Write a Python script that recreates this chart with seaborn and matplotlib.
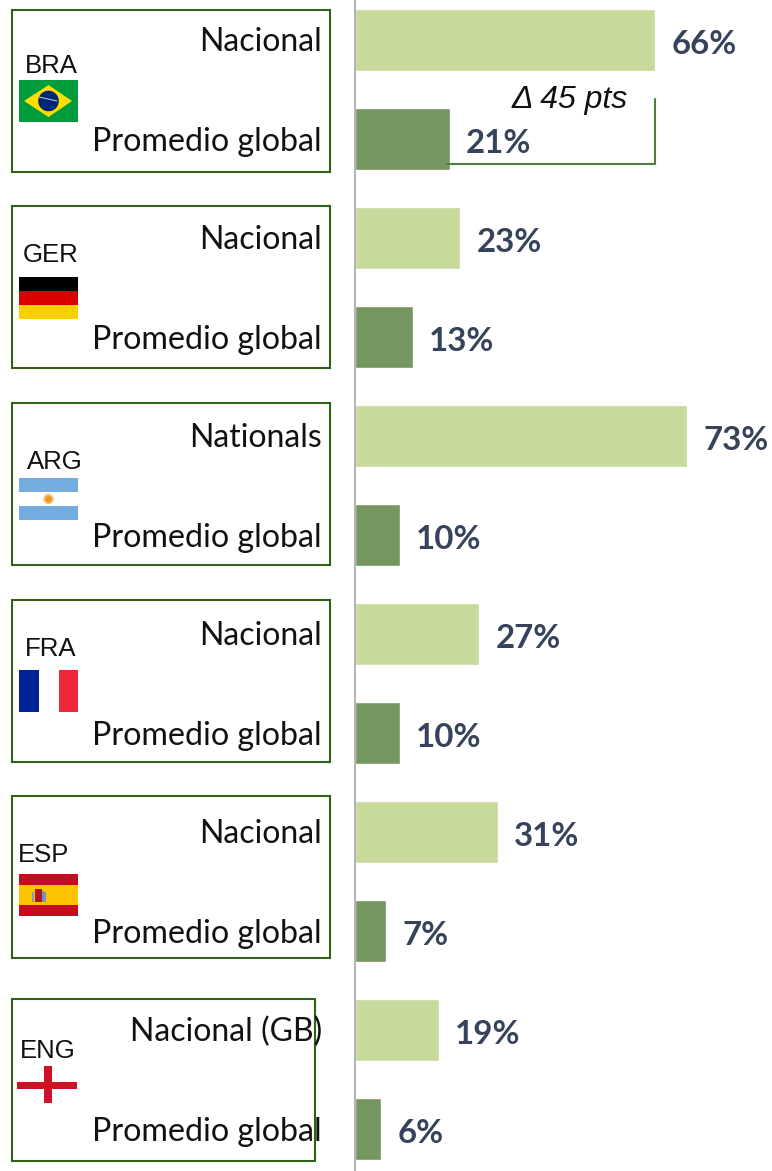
import matplotlib
matplotlib.use("Agg")
import matplotlib.pyplot as plt
from matplotlib.patches import Rectangle, Polygon, Circle
import pandas as pd
import seaborn as sns

countries = ["BRA", "GER", "ARG", "FRA", "ESP", "ENG"]
national_labels = ["Nacional", "Nacional", "Nationals", "Nacional", "Nacional", "Nacional (GB)"]
global_label = "Promedio global"
national_values = [66, 23.2, 73, 27.4, 31.4, 18.6]
global_values = [21, 12.9, 9.9, 9.9, 7, 5.9]
delta_label = "Δ 45 pts"

W, H = 772, 1171
C_LIGHT, C_DARK = "#C7D99B", "#769660"
C_BOX = "#2F6119"
C_VAL = "#36435A"

rows, kinds, vals = [], [], []
for c, n, g in zip(countries, national_values, global_values):
    rows += [f"{c} nacional", f"{c} global"]
    kinds += ["Nacional", "Global"]
    vals += [n, g]
df = pd.DataFrame({"row": rows, "kind": kinds, "value": vals})

sns.set_theme(style="white")
fig = plt.figure(figsize=(W / 100, H / 100), dpi=100, facecolor="white")
AX_LEFT = 354.5
ax = fig.add_axes([AX_LEFT / W, 0, (W - AX_LEFT) / W, 1])
sns.barplot(data=df, y="row", x="value", hue="kind", order=rows,
            hue_order=["Nacional", "Global"],
            palette={"Nacional": C_LIGHT, "Global": C_DARK},
            dodge=False, width=0.63, legend=False, saturation=1, ax=ax)
ax.set_xlim(0, (W - AX_LEFT) / 4.56)
ax.set_ylim((H - 39.9) / 99, -39.9 / 99)
ax.set_xlabel(""); ax.set_ylabel("")
ax.set_xticks([]); ax.set_yticks([])
for s in ["top", "right", "bottom"]:
    ax.spines[s].set_visible(False)
ax.spines["left"].set_color("#A6A6A6")
ax.spines["left"].set_linewidth(1.2)
for cont in ax.containers:
    for t in ax.bar_label(cont, fmt="%.0f%%", padding=11.5, fontsize=23.8,
                          fontweight="bold", color=C_VAL, family="Lato"):
        t.set_va("center")
        t.xyann = (t.xyann[0], -3)

# overlay in pixel space for boxes, flags and text
ov = fig.add_axes([0, 0, 1, 1], facecolor="none")
ov.set_xlim(0, W); ov.set_ylim(H, 0); ov.axis("off")

box_top = [9.5, 206, 403, 600, 796, 999]
flag_top = [80, 277, 478, 670, 874, 1062]
code_xy = [(51.5, 66), (50.5, 255), (55, 462), (50.5, 649), (44, 855), (47.5, 1051)]
FX0, FW, FH = 19, 59, 42

def rect(x, y, w, h, c, z=3):
    ov.add_patch(Rectangle((x, y), w, h, fc=c, ec="none", zorder=z))

for i, c in enumerate(countries):
    top = box_top[i]
    bw = 303 if c == "ENG" else 318
    ov.add_patch(Rectangle((12, top), bw, 162, fc="none", ec=C_BOX, lw=1.5, zorder=2))
    yc = 42 + 198 * i
    ov.text(322, yc, national_labels[i], ha="right", va="center",
            fontsize=23, family="Lato", color="#111111", zorder=4)
    ov.text(322, yc + 100, global_label, ha="right", va="center",
            fontsize=23.2, family="Lato", color="#111111", zorder=4)
    x, y = code_xy[i]
    ov.text(x, y, c, ha="center", va="center", fontsize=18.5,
            family="Liberation Sans", color="#111111", zorder=4)
    t = flag_top[i]
    if c == "BRA":
        rect(FX0, t, FW, FH, "#009B3A")
        ov.add_patch(Polygon([(24, t + 21), (48.5, t + 5), (72, t + 21), (48.5, t + 37)],
                             fc="#FEDF00", ec="none", zorder=4))
        ov.add_patch(Circle((48.5, t + 21), 10.3, fc="#002776", ec="none", zorder=5))
        ov.plot([39, 57], [t + 17, t + 21], color="#DDE6EE", lw=0.6, zorder=6)
    elif c == "GER":
        rect(FX0, t, FW, 14, "#000000")
        rect(FX0, t + 14, FW, 14, "#DD0000")
        rect(FX0, t + 28, FW, 14, "#FFCE00")
    elif c == "ARG":
        rect(FX0, t, FW, 14, "#74ACDF")
        rect(FX0, t + 28, FW, 14, "#74ACDF")
        ov.add_patch(Circle((48.5, t + 21), 5.2, fc="#F2C27A", ec="none", zorder=5))
        ov.add_patch(Circle((48.5, t + 21), 3.2, fc="#E89A1E", ec="none", zorder=6))
    elif c == "FRA":
        rect(FX0, t, 20, FH, "#002395")
        rect(FX0 + 39.5, t, 19.5, FH, "#ED2939")
    elif c == "ESP":
        rect(FX0, t, FW, FH, "#C60B1E")
        rect(FX0, t + 10.5, FW, 20.5, "#FFC400")
        rect(35, t + 15, 7, 13, "#AD1519", z=5)
        rect(42, t + 17, 3, 11, "#7A8FB5", z=5)
        rect(31.5, t + 18, 2, 10, "#8A9AB0", z=5)
        rect(44.5, t + 18, 1.5, 10, "#8A9AB0", z=5)
    elif c == "ENG":
        rect(17, t + 20, 60, 7, "#CE1124")
        rect(43.5, t + 4, 8, 37, "#CE1124")

ov.plot([447, 655, 655], [163.5, 163.5, 99], color="#4F7F3C", lw=1.5, zorder=5,
        solid_joinstyle="miter")
ov.text(570, 100, delta_label, ha="center", va="center", fontsize=23,
        style="italic", family="Liberation Sans", color="#111111", zorder=6)

fig.savefig("out.png", dpi=100)
